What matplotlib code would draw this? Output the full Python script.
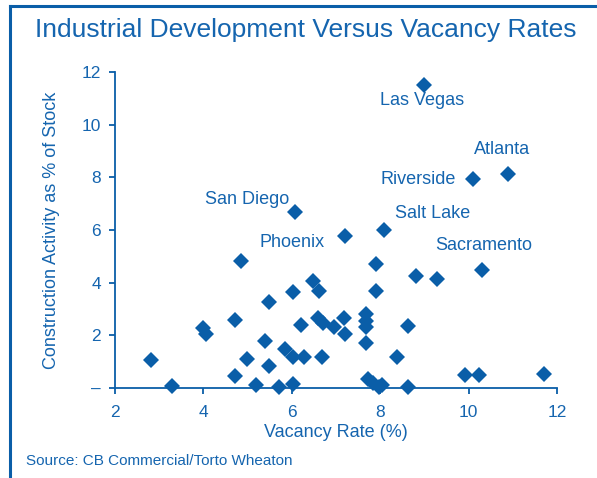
import matplotlib
matplotlib.use("Agg")
import matplotlib.pyplot as plt
from matplotlib.lines import Line2D

plt.rcParams['font.family'] = ['Liberation Sans', 'DejaVu Sans']

BLUE = '#0A5EA8'
TEXT = '#1565AF'

# vacancy rate (%) and construction activity (% of stock) per market
vacancy = [9.0, 10.9, 10.1, 6.08, 8.09, 7.21, 10.3,
           4.86, 6.49, 6.62, 6.02, 5.49, 7.90, 8.81, 9.29, 7.90,
           4.71, 4.00, 4.07, 6.20, 6.60, 6.70, 6.96, 7.18, 7.20,
           7.69, 7.69, 7.69, 7.69, 8.62,
           2.81, 4.98, 5.39, 5.85, 6.03, 6.28, 6.69, 5.49, 4.71, 8.39,
           3.30, 5.19, 5.72, 6.02, 7.73, 7.84, 7.98, 8.03, 8.62,
           9.92, 10.24, 11.71]
construction = [11.5, 8.13, 7.94, 6.69, 6.0, 5.76, 4.5,
                4.82, 4.08, 3.68, 3.63, 3.25, 4.70, 4.27, 4.13, 3.70,
                2.58, 2.27, 2.05, 2.39, 2.65, 2.46, 2.30, 2.65, 2.05,
                2.80, 2.55, 2.30, 1.70, 2.37,
                1.06, 1.09, 1.80, 1.48, 1.19, 1.19, 1.19, 0.85, 0.46, 1.19,
                0.08, 0.11, 0.03, 0.14, 0.33, 0.18, 0.03, 0.11, 0.03,
                0.49, 0.49, 0.52]

# labelled markets: index into the arrays above
names = ['Las Vegas', 'Atlanta', 'Riverside', 'San Diego', 'Salt Lake', 'Phoenix', 'Sacramento']
name_idx = [0, 1, 2, 3, 4, 5, 6]
# label placement (offset pixels, horizontal alignment)
offsets = [(-2, -15, 'center'), (-6, 24, 'center'), (-17, -1, 'right'),
           (-6, 12, 'right'), (11, 17, 'left'), (-21, -6, 'right'), (2, 24, 'center')]

xticks = [2, 4, 6, 8, 10, 12]
yticks = [0, 2, 4, 6, 8, 10, 12]
ytick_labels = ['–', '2', '4', '6', '8', '10', '12']

fig = plt.figure(figsize=(5.97, 4.78), dpi=100)
ax = fig.add_axes([115 / 597, 1 - 388 / 478, 442 / 597, 316 / 478])

ax.plot(vacancy, construction, linestyle='none', marker='D', markersize=8.5,
        color=BLUE, markeredgewidth=0, clip_on=False, zorder=3)

for name, i, (dx, dy, ha) in zip(names, name_idx, offsets):
    ax.annotate(name, (vacancy[i], construction[i]), xytext=(dx, dy),
                textcoords='offset pixels', ha=ha, va='center',
                fontsize=13, color=TEXT)

ax.set_xlim(2, 12)
ax.set_ylim(0, 12)
ax.set_xticks(xticks)
ax.set_yticks(yticks)
ax.set_yticklabels(ytick_labels)

for s in ['top', 'right']:
    ax.spines[s].set_visible(False)
for s in ['left', 'bottom']:
    ax.spines[s].set_color(BLUE)
    ax.spines[s].set_linewidth(1.3)
ax.tick_params(colors=BLUE, labelcolor=TEXT, labelsize=12.5, length=4, width=1.3)
ax.tick_params(axis='x', pad=8)
ax.tick_params(axis='y', pad=6)

ax.set_xlabel('Vacancy Rate (%)', fontsize=13, color=TEXT, labelpad=3)
ax.set_ylabel('Construction Activity as % of Stock', fontsize=13, color=TEXT, labelpad=16)

fig.text(35 / 597, 1 - 30 / 478, 'Industrial Development Versus Vacancy Rates',
         fontsize=19, color=TEXT, ha='left', va='center')
fig.text(26 / 597, 1 - 461 / 478, 'Source: CB Commercial/Torto Wheaton',
         fontsize=11, color=TEXT, ha='left', va='center')

# frame around the figure (left and top edges)
fig.add_artist(Line2D([9.5 / 597, 9.5 / 597], [0, 1 - 6 / 478], color=BLUE, linewidth=2.2,
                      transform=fig.transFigure))
fig.add_artist(Line2D([9.5 / 597, 1], [1 - 6 / 478, 1 - 6 / 478], color=BLUE, linewidth=2.2,
                      transform=fig.transFigure))

fig.savefig('out.png', dpi=100)
